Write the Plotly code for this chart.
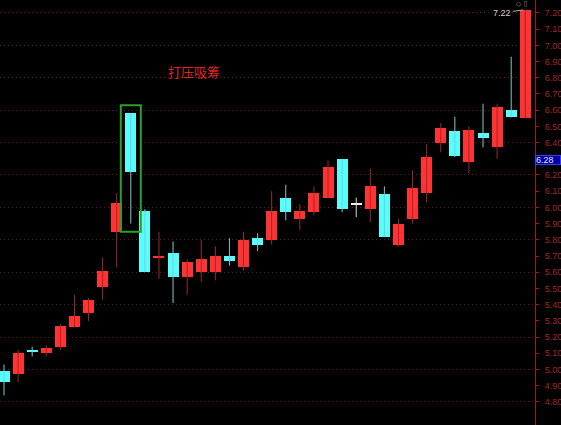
import plotly.graph_objects as go

# daily OHLC (left to right)
open_ = [4.99, 4.97, 5.115, 5.10, 5.14, 5.26, 5.35, 5.51, 5.85, 6.58,
         5.98, 5.69, 5.72, 5.57, 5.60, 5.60, 5.70, 5.63, 5.81, 5.80,
         6.06, 5.93, 5.97, 6.06, 6.30, 6.02, 5.99, 6.08, 5.77, 5.93,
         6.09, 6.40, 6.47, 6.28, 6.46, 6.37, 6.60, 6.55]
high = [5.03, 5.12, 5.14, 5.15, 5.28, 5.46, 5.44, 5.69, 6.09, 6.58,
        5.99, 5.85, 5.79, 5.68, 5.80, 5.76, 5.81, 5.85, 5.84, 6.10,
        6.14, 6.02, 6.13, 6.29, 6.30, 6.06, 6.24, 6.13, 5.93, 6.23,
        6.39, 6.52, 6.56, 6.50, 6.64, 6.64, 6.93, 7.22]
low = [4.84, 4.92, 5.08, 5.08, 5.12, 5.26, 5.30, 5.43, 5.63, 5.90,
       5.60, 5.56, 5.41, 5.46, 5.54, 5.55, 5.64, 5.61, 5.73, 5.77,
       5.92, 5.86, 5.95, 6.06, 5.97, 5.94, 5.91, 5.82, 5.76, 5.90,
       6.03, 6.34, 6.31, 6.21, 6.37, 6.30, 6.555, 6.55]
close = [4.92, 5.10, 5.11, 5.13, 5.27, 5.33, 5.43, 5.61, 6.03, 6.22,
         5.60, 5.70, 5.57, 5.66, 5.68, 5.70, 5.67, 5.80, 5.77, 5.98,
         5.97, 5.98, 6.09, 6.25, 5.99, 6.02, 6.13, 5.82, 5.90, 6.12,
         6.31, 6.49, 6.32, 6.48, 6.43, 6.62, 6.56, 7.22]

# price axis labels (every 0.10 from 4.80 to 7.20)
price_ticks = [round(4.8 + 0.1 * k, 2) for k in range(25)]

marked_day = 9          # candle framed in green
note_text = "打压吸筹"
last_high_label = "7.22"
cursor_price = 6.28

UP, DOWN, FLAT = "#ff3333", "#55ffff", "#f0f0f0"
WICK = {UP: "#a02828", DOWN: "#80c8c8", FLAT: "#d8d8d8"}
AXIS_RED = "#a01818"
NARROW = "Liberation Sans Narrow, Liberation Sans, Arial"

x = list(range(len(open_)))
colors = [UP if c > o else DOWN if c < o else FLAT for o, c in zip(open_, close)]

fig = go.Figure()

# wicks, one trace per colour
for col in (UP, DOWN, FLAT):
    wx, wy = [], []
    for i in x:
        if colors[i] == col:
            wx += [i, i, None]
            wy += [low[i], high[i], None]
    fig.add_trace(go.Scatter(x=wx, y=wy, mode="lines", line=dict(color=WICK[col], width=1),
                             hoverinfo="skip", showlegend=False))

# bodies
fig.add_trace(go.Bar(
    x=x,
    base=[min(o, c) for o, c in zip(open_, close)],
    y=[max(abs(c - o), 0.005) for o, c in zip(open_, close)],
    width=0.78,
    marker=dict(color=colors, line=dict(width=0)),
    showlegend=False,
))

# invisible trace so the right price axis is drawn
fig.add_trace(go.Scatter(x=[x[0]], y=[close[0]], yaxis="y2", mode="markers",
                         marker=dict(opacity=0), hoverinfo="skip", showlegend=False))

yr = [4.657, 7.280]
xr = [-0.284, 37.69]

fig.add_shape(type="rect", xref="x", yref="y",
              x0=marked_day - 0.71, x1=marked_day + 0.71,
              y0=low[marked_day] - 0.05, y1=high[marked_day] + 0.05,
              line=dict(color="#2aa02a", width=2))

fig.add_annotation(x=13.5, y=6.84, xref="x", yref="y", text=note_text, showarrow=False,
                   font=dict(family="Noto Sans CJK SC", size=13, color="#e02222"))

fig.add_annotation(x=x[-1], y=high[-1], xref="x", yref="y", text=last_high_label,
                   showarrow=True, arrowhead=0, arrowwidth=1, arrowcolor="#b0b0b0",
                   ax=-23, ay=3, standoff=2,
                   font=dict(family=NARROW, size=9, color="#d0d0d0"))

fig.add_annotation(x=1.0, xref="paper", xanchor="left", y=cursor_price + 0.012, yref="y",
                   text=f"{cursor_price:.2f}", showarrow=False, width=24, height=8,
                   align="left", bgcolor="#0000a0", bordercolor="#3a3aff", borderwidth=1, borderpad=0,
                   font=dict(family=NARROW, size=9, color="#e0e0ff"))

fig.add_annotation(x=514 / 535, xref="paper", xanchor="left", y=1.0, yref="paper", yanchor="top",
                   yshift=2, text="◇ ▯", showarrow=False,
                   font=dict(family="DejaVu Sans", size=7, color="#8a8a8a"))

fig.update_layout(
    width=561,
    height=425,
    margin=dict(l=0, r=26, t=0, b=0, autoexpand=False),
    paper_bgcolor="#000000",
    plot_bgcolor="#000000",
    bargap=0,
    xaxis=dict(range=xr, visible=False),
    yaxis=dict(range=yr, tick0=4.8, dtick=0.2, showgrid=True, gridcolor="#5e1a1a",
               griddash="1px,3px", gridwidth=1, showticklabels=False, ticks="",
               zeroline=False, showline=False),
    yaxis2=dict(range=yr, overlaying="y", side="right", tickmode="array",
                tickvals=price_ticks, ticktext=[f"{v:.2f}" for v in price_ticks],
                showgrid=False, zeroline=False, automargin=False,
                showline=True, linecolor=AXIS_RED, linewidth=1,
                ticks="outside", ticklen=3, tickcolor=AXIS_RED,
                ticklabelstandoff=4,
                tickfont=dict(family=NARROW, size=9, color="#a02828")),
)

fig.write_html("out.html", config={"displayModeBar": False},
               post_script="document.body.style.margin='0';document.body.style.background='#000';")
